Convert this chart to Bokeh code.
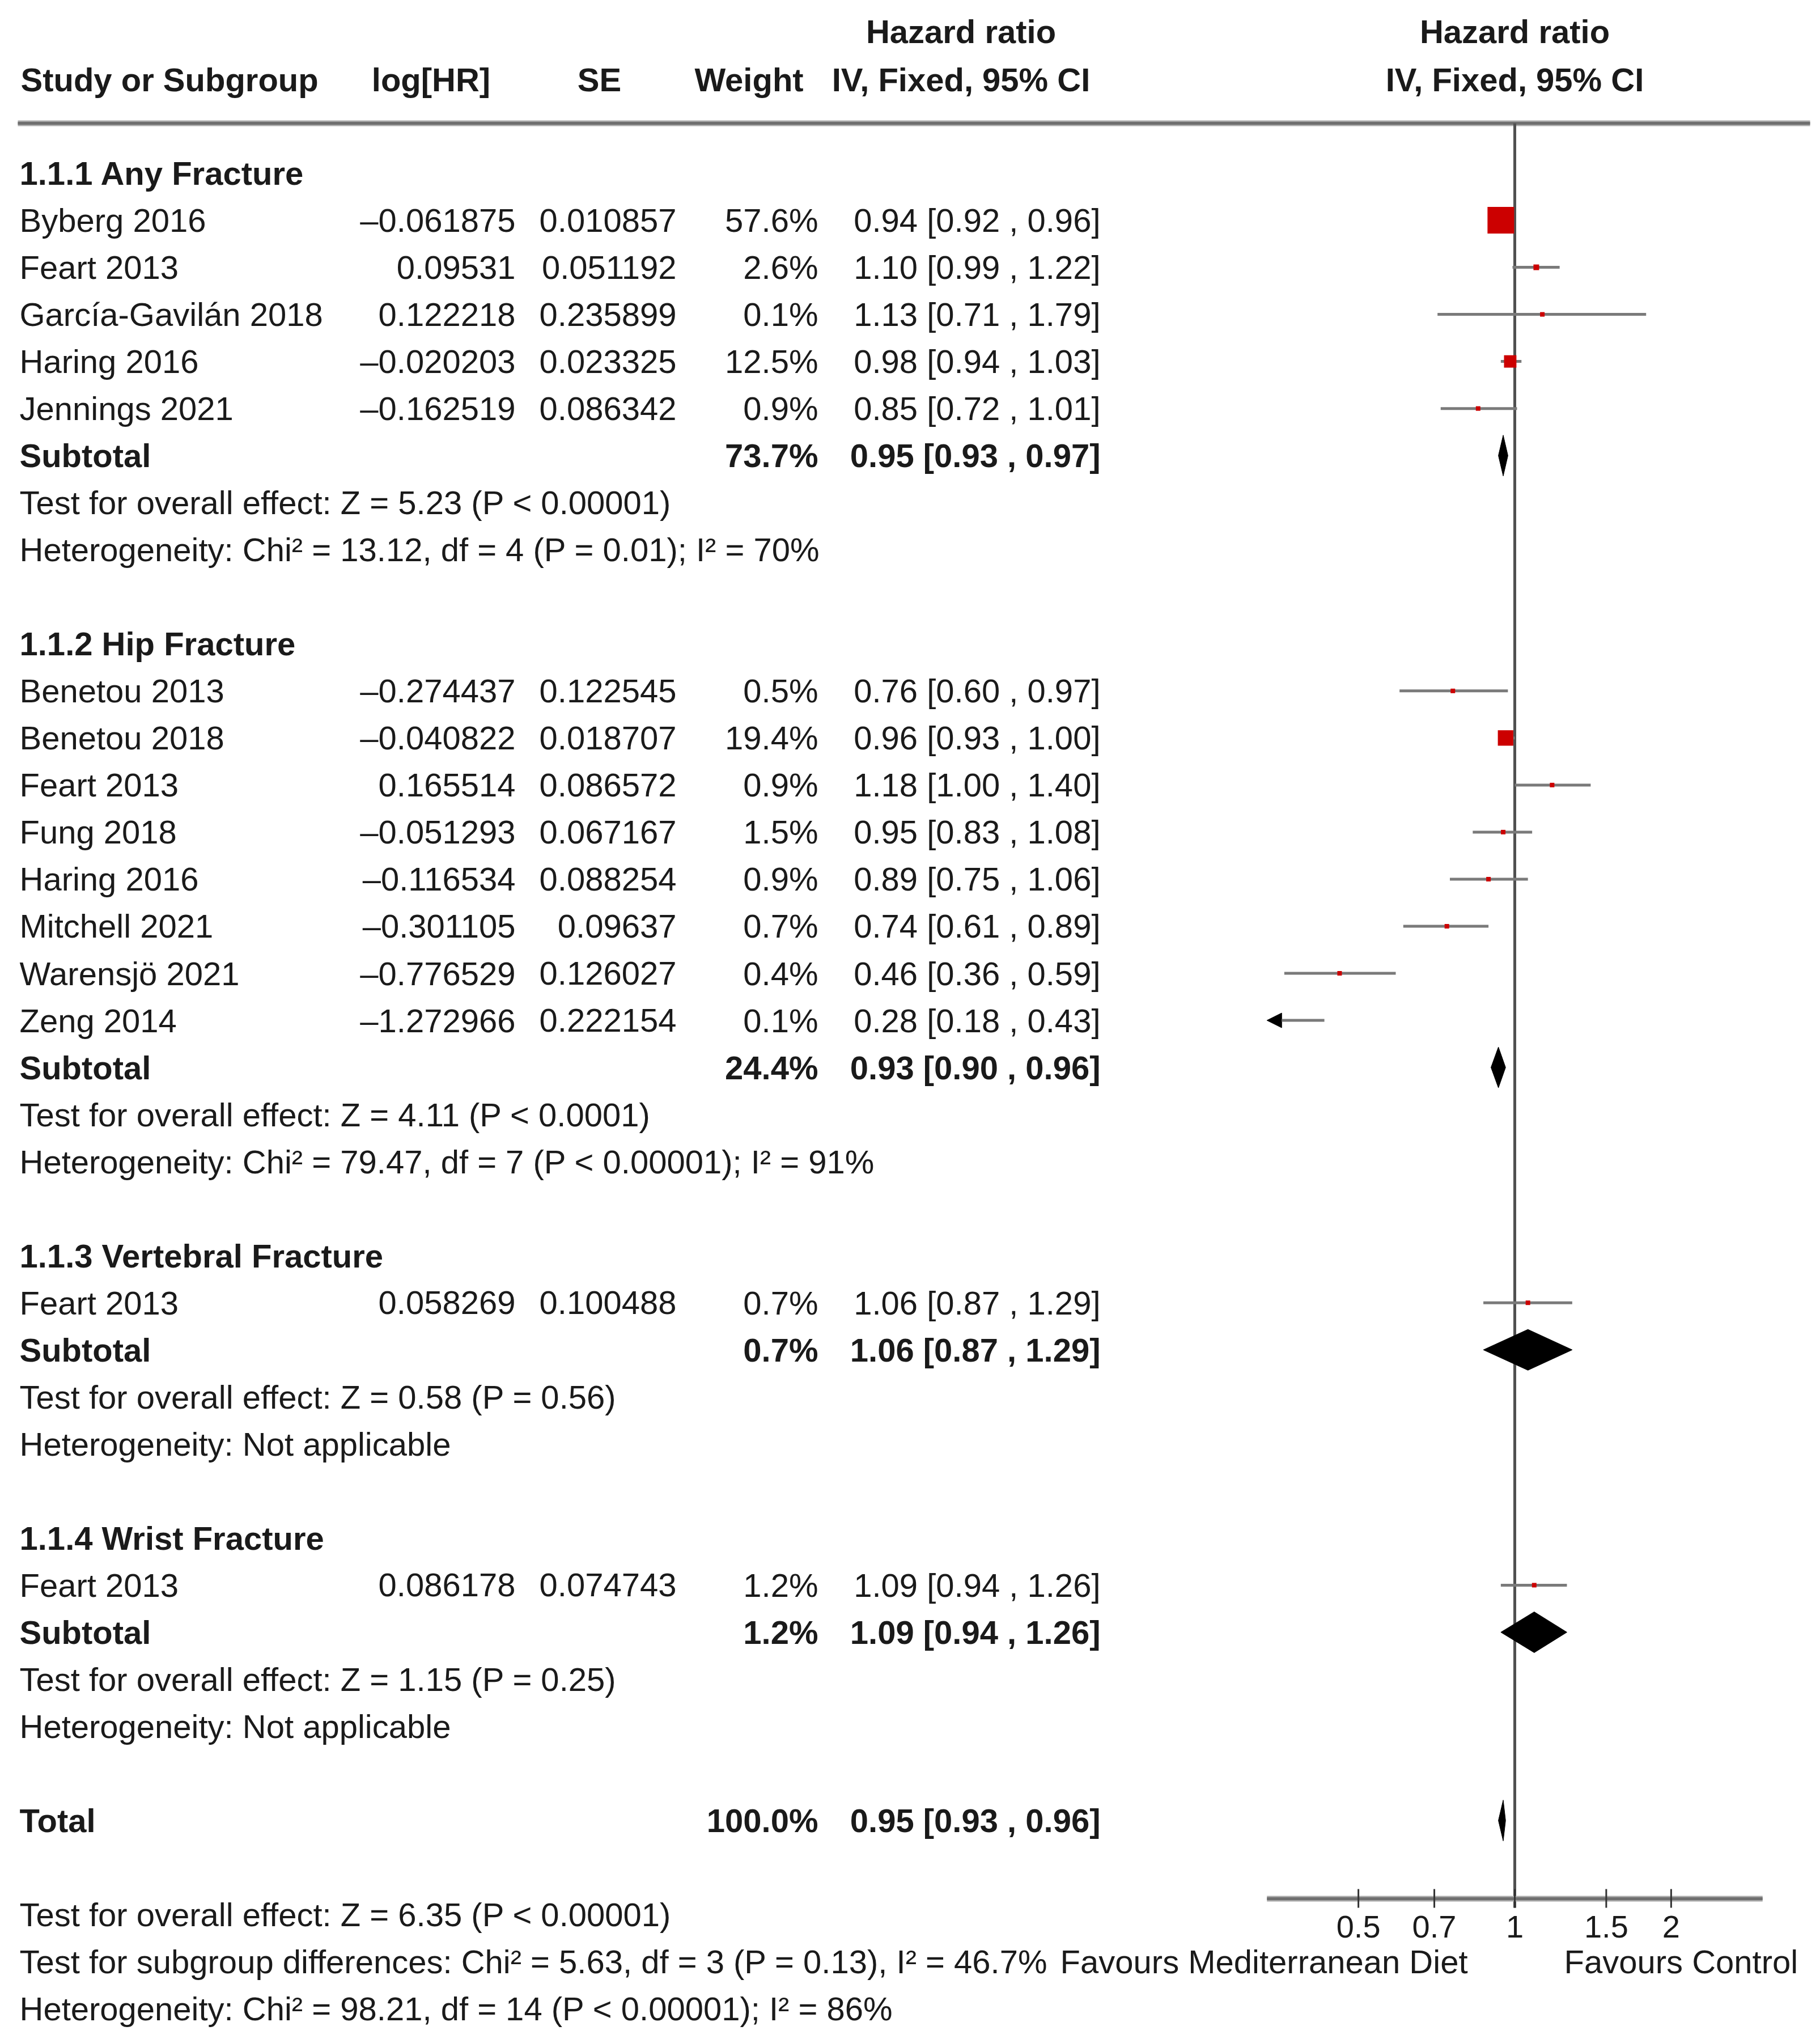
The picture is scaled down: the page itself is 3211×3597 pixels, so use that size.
import math
from bokeh.plotting import figure
from bokeh.models import Range1d, LinearScale, ColumnDataSource, Arrow, NormalHead
from bokeh.core.properties import value
from bokeh.embed import file_html
from bokeh.resources import INLINE

# ---------------- data ----------------
group_titles = ["1.1.1 Any Fracture", "1.1.2 Hip Fracture",
                "1.1.3 Vertebral Fracture", "1.1.4 Wrist Fracture"]
study_group = [0, 0, 0, 0, 0, 1, 1, 1, 1, 1, 1, 1, 1, 2, 3]
study_names = ["Byberg 2016", "Feart 2013", "García-Gavilán 2018", "Haring 2016", "Jennings 2021",
               "Benetou 2013", "Benetou 2018", "Feart 2013", "Fung 2018", "Haring 2016",
               "Mitchell 2021", "Warensjö 2021", "Zeng 2014",
               "Feart 2013",
               "Feart 2013"]
log_hr = [-0.061875, 0.09531, 0.122218, -0.020203, -0.162519,
          -0.274437, -0.040822, 0.165514, -0.051293, -0.116534,
          -0.301105, -0.776529, -1.272966,
          0.058269,
          0.086178]
se = [0.010857, 0.051192, 0.235899, 0.023325, 0.086342,
      0.122545, 0.018707, 0.086572, 0.067167, 0.088254,
      0.09637, 0.126027, 0.222154,
      0.100488,
      0.074743]
weights = [57.6, 2.6, 0.1, 12.5, 0.9,
           0.5, 19.4, 0.9, 1.5, 0.9, 0.7, 0.4, 0.1,
           0.7,
           1.2]
hr = [0.94, 1.10, 1.13, 0.98, 0.85,
      0.76, 0.96, 1.18, 0.95, 0.89, 0.74, 0.46, 0.28,
      1.06,
      1.09]
ci_lo = [0.92, 0.99, 0.71, 0.94, 0.72,
         0.60, 0.93, 1.00, 0.83, 0.75, 0.61, 0.36, 0.18,
         0.87,
         0.94]
ci_hi = [0.96, 1.22, 1.79, 1.03, 1.01,
         0.97, 1.00, 1.40, 1.08, 1.06, 0.89, 0.59, 0.43,
         1.29,
         1.26]

sub_weight = [73.7, 24.4, 0.7, 1.2]
sub_hr = [0.95, 0.93, 1.06, 1.09]
sub_lo = [0.93, 0.90, 0.87, 0.94]
sub_hi = [0.97, 0.96, 1.29, 1.26]
sub_test = ["Test for overall effect: Z = 5.23 (P < 0.00001)",
            "Test for overall effect: Z = 4.11 (P < 0.0001)",
            "Test for overall effect: Z = 0.58 (P = 0.56)",
            "Test for overall effect: Z = 1.15 (P = 0.25)"]
sub_het = ["Heterogeneity: Chi² = 13.12, df = 4 (P = 0.01); I² = 70%",
           "Heterogeneity: Chi² = 79.47, df = 7 (P < 0.00001); I² = 91%",
           "Heterogeneity: Not applicable",
           "Heterogeneity: Not applicable"]

total_weight = 100.0
total_hr = 0.95
total_lo = 0.93
total_hi = 0.96
footer_lines = ["Test for overall effect: Z = 6.35 (P < 0.00001)",
                "Test for subgroup differences: Chi² = 5.63, df = 3 (P = 0.13), I² = 46.7%",
                "Heterogeneity: Chi² = 98.21, df = 14 (P < 0.00001); I² = 86%"]

tick_values = [0.5, 0.7, 1, 1.5, 2]
tick_labels = ["0.5", "0.7", "1", "1.5", "2"]
axis_min, axis_max = 1 / 3, 3
favours_left = "Favours Mediterranean Diet"
favours_right = "Favours Control"

# ---------------- layout constants ----------------
W, H = 3195, 3581
ORG = 0             # page coordinate of the figure's top-left corner
X_ONE = 2672.0      # page x of HR = 1
K = 398.0           # page px per ln unit
Y0, STEP = 305.0, 83.03
FONT = "Liberation Sans"
FS = value("58px")
TXT = "#1a1a1a"
RED = "#cc0000"
GRAY = "#7a7a7a"

COL_NAME = 34
COL_LOG = 909
COL_SE = 1193
COL_W = 1443
COL_CI = 1941
COL_CI_C = 1695


def rowy(r):
    return Y0 + r * STEP


p = figure(width=W, height=H, x_axis_type="log",
           x_range=Range1d(math.exp((ORG - X_ONE) / K), math.exp((ORG + W - X_ONE) / K)),
           y_range=Range1d(ORG + H, ORG),
           output_backend="svg", toolbar_location=None,
           x_axis_location=None, y_axis_location=None,
           min_border=0, outline_line_color=None,
           background_fill_color="white", border_fill_color="white")
p.extra_x_ranges = {"tbl": Range1d(ORG, ORG + W)}
p.extra_x_scales = {"tbl": LinearScale()}
p.xgrid.visible = False
p.ygrid.visible = False


def add_text(xs, ys, texts, align, bold=False, size=FS, tbl=True, x_offset=0, color=TXT):
    src = ColumnDataSource(dict(x=list(xs), y=list(ys), t=list(texts)))
    kw = {"x_range_name": "tbl"} if tbl else {}
    p.text(x="x", y="y", text="t", source=src, text_align=align, text_baseline="middle",
           text_font=value(FONT), text_font_size=size,
           text_font_style="bold" if bold else "normal", text_color=color,
           x_offset=x_offset, **kw)


def fmt_ci(a, b, c):
    return f"{a:.2f} [{b:.2f} , {c:.2f}]"


def fmt_num(v):
    s = repr(abs(v))
    return ("–" + s) if v < 0 else s


# ---------------- header ----------------
HY1, HY2 = 55, 140
add_text([COL_CI_C], [HY1], ["Hazard ratio"], "center", bold=True)
add_text([1], [HY1], ["Hazard ratio"], "center", bold=True, tbl=False)
add_text([36], [HY2], ["Study or Subgroup"], "left", bold=True)
add_text([760], [HY2], ["log[HR]"], "center", bold=True)
add_text([1057], [HY2], ["SE"], "center", bold=True)
add_text([1321], [HY2], ["Weight"], "center", bold=True)
add_text([COL_CI_C], [HY2], ["IV, Fixed, 95% CI"], "center", bold=True)
add_text([1], [HY2], ["IV, Fixed, 95% CI"], "center", bold=True, tbl=False)

# header rule (double shaded)
RULE_Y = 217
p.segment(x0=[31], y0=[RULE_Y], x1=[3193], y1=[RULE_Y], x_range_name="tbl",
          line_color="#a8a8a8", line_width=10)
p.segment(x0=[31], y0=[RULE_Y], x1=[3193], y1=[RULE_Y], x_range_name="tbl",
          line_color="#6e6e6e", line_width=5)

# ---------------- rows ----------------
bold_l = {"x": [], "y": [], "t": []}
bold_r_w = {"x": [], "y": [], "t": []}
bold_r_ci = {"x": [], "y": [], "t": []}
norm_l = {"x": [], "y": [], "t": []}
st_y = []
dia_xs, dia_ys = [], []
DH = 36

row = 0
for g, title in enumerate(group_titles):
    bold_l["x"].append(COL_NAME); bold_l["y"].append(rowy(row)); bold_l["t"].append(title)
    row += 1
    for i, gi in enumerate(study_group):
        if gi != g:
            continue
        norm_l["x"].append(COL_NAME); norm_l["y"].append(rowy(row)); norm_l["t"].append(study_names[i])
        st_y.append((i, rowy(row)))
        row += 1
    y = rowy(row)
    bold_l["x"].append(COL_NAME); bold_l["y"].append(y); bold_l["t"].append("Subtotal")
    bold_r_w["x"].append(COL_W); bold_r_w["y"].append(y); bold_r_w["t"].append(f"{sub_weight[g]:.1f}%")
    bold_r_ci["x"].append(COL_CI); bold_r_ci["y"].append(y); bold_r_ci["t"].append(fmt_ci(sub_hr[g], sub_lo[g], sub_hi[g]))
    dia_xs.append([sub_lo[g], sub_hr[g], sub_hi[g], sub_hr[g]])
    dia_ys.append([y, y - DH, y, y + DH])
    row += 1
    norm_l["x"].append(COL_NAME); norm_l["y"].append(rowy(row)); norm_l["t"].append(sub_test[g])
    row += 1
    norm_l["x"].append(COL_NAME); norm_l["y"].append(rowy(row)); norm_l["t"].append(sub_het[g])
    row += 2

# total
y = rowy(row)
bold_l["x"].append(COL_NAME); bold_l["y"].append(y); bold_l["t"].append("Total")
bold_r_w["x"].append(COL_W); bold_r_w["y"].append(y); bold_r_w["t"].append(f"{total_weight:.1f}%")
bold_r_ci["x"].append(COL_CI); bold_r_ci["y"].append(y); bold_r_ci["t"].append(fmt_ci(total_hr, total_lo, total_hi))
dia_xs.append([total_lo, total_hr, total_hi, total_hr])
dia_ys.append([y, y - DH, y, y + DH])
total_row = row

# footer
for k, line in enumerate(footer_lines):
    norm_l["x"].append(COL_NAME); norm_l["y"].append(rowy(total_row + 2 + k)); norm_l["t"].append(line)

add_text(bold_l["x"], bold_l["y"], bold_l["t"], "left", bold=True)
add_text(bold_r_w["x"], bold_r_w["y"], bold_r_w["t"], "right", bold=True)
add_text(bold_r_ci["x"], bold_r_ci["y"], bold_r_ci["t"], "right", bold=True)
add_text(norm_l["x"], norm_l["y"], norm_l["t"], "left")

# study numeric columns
sy = [yy for _, yy in st_y]
idx = [i for i, _ in st_y]
add_text([COL_LOG] * len(idx), sy, [fmt_num(log_hr[i]) for i in idx], "right")
add_text([COL_SE] * len(idx), sy, [repr(se[i]) for i in idx], "right")
add_text([COL_W] * len(idx), sy, [f"{weights[i]:.1f}%" for i in idx], "right")
add_text([COL_CI] * len(idx), sy, [fmt_ci(hr[i], ci_lo[i], ci_hi[i]) for i in idx], "right")

# ---------------- forest plot ----------------
AXIS_Y = 3349
# null line
p.segment(x0=[1], y0=[RULE_Y], x1=[1], y1=[AXIS_Y + 16], line_color="#505050", line_width=5)

seg = {"x0": [], "x1": [], "y": []}
pts = {"x": [], "y": [], "s": []}
for i, yy in st_y:
    lo_d = max(ci_lo[i], axis_min)
    hi_d = min(ci_hi[i], axis_max)
    if ci_lo[i] < axis_min:
        p.add_layout(Arrow(end=NormalHead(size=26, fill_color="black", line_color="black", line_width=1),
                           x_start=hi_d, y_start=yy, x_end=lo_d, y_end=yy,
                           line_color=GRAY, line_width=5))
    else:
        seg["x0"].append(lo_d); seg["x1"].append(hi_d); seg["y"].append(yy)
    if axis_min <= hr[i] <= axis_max:
        pts["x"].append(hr[i]); pts["y"].append(yy)
        pts["s"].append(max(8.0, 47.0 * math.sqrt(weights[i] / 57.6)))

p.segment(x0="x0", y0="y", x1="x1", y1="y", source=ColumnDataSource(seg),
          line_color=GRAY, line_width=5)
p.scatter(x="x", y="y", size="s", marker="square", source=ColumnDataSource(pts),
          fill_color=RED, line_color=None)
p.patches(xs=dia_xs, ys=dia_ys, fill_color="black", line_color="black", line_width=1)

# axis
p.segment(x0=[axis_min], y0=[AXIS_Y], x1=[axis_max], y1=[AXIS_Y], line_color="#a8a8a8", line_width=10)
p.segment(x0=[axis_min], y0=[AXIS_Y], x1=[axis_max], y1=[AXIS_Y], line_color="#6e6e6e", line_width=5)
p.segment(x0=tick_values, y0=[AXIS_Y - 17] * len(tick_values), x1=tick_values,
          y1=[AXIS_Y + 16] * len(tick_values), line_color="#333333", line_width=3)
add_text(tick_values, [3398] * len(tick_values), tick_labels, "center", size=value("56px"), tbl=False)
add_text([1], [rowy(total_row + 3)], [favours_left], "right", tbl=False, x_offset=-83)
add_text([1], [rowy(total_row + 3)], [favours_right], "left", tbl=False, x_offset=87)

open("out.html", "w").write(file_html(p, INLINE))
